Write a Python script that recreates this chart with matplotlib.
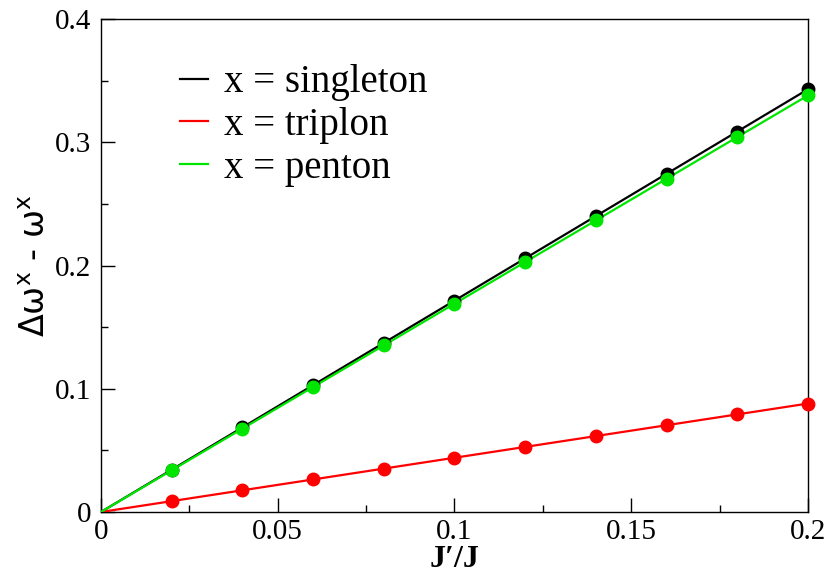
import numpy as np
import matplotlib
matplotlib.use("Agg")
import matplotlib.pyplot as plt
from matplotlib.ticker import MultipleLocator

plt.rcParams['font.family'] = ['Liberation Serif', 'DejaVu Serif']
plt.rcParams['mathtext.fontset'] = 'dejavusans'

# data
jprime = [0.02, 0.04, 0.06, 0.08, 0.10, 0.12, 0.14, 0.16, 0.18, 0.20]
singleton = [0.0343, 0.0686, 0.1029, 0.1372, 0.1715, 0.2058, 0.2401, 0.2744, 0.3087, 0.3430]
triplon = [0.0088, 0.0176, 0.0264, 0.0352, 0.0440, 0.0528, 0.0616, 0.0704, 0.0792, 0.0880]
penton = [0.0338, 0.0676, 0.1014, 0.1352, 0.1690, 0.2028, 0.2366, 0.2704, 0.3042, 0.3380]

labels = ['x = singleton', 'x = triplon', 'x = penton']
colors = ['black', '#ff0000', '#00e600']

fig = plt.figure(figsize=(8.27, 5.78), dpi=100)
ax = fig.add_axes([0.1221, 0.1142, 0.8549, 0.8529])

for ys, lab, col in zip([singleton, triplon, penton], labels, colors):
    # line from origin through the points
    ax.plot([0] + jprime, [0] + ys, color=col, lw=1.6, label=lab, zorder=3)
    ax.plot(jprime, ys, 'o', color=col, ms=9, clip_on=False, zorder=4)

ax.set_xlim(0, 0.2)
ax.set_ylim(0, 0.4)
ax.set_xticks([0, 0.05, 0.1, 0.15, 0.2])
ax.set_xticklabels(['0', '0.05', '0.1', '0.15', '0.2'])
ax.set_yticks([0, 0.1, 0.2, 0.3, 0.4])
ax.set_yticklabels(['0', '0.1', '0.2', '0.3', '0.4'])
ax.xaxis.set_minor_locator(MultipleLocator(0.025))
ax.yaxis.set_minor_locator(MultipleLocator(0.05))
ax.tick_params(which='major', direction='in', length=10, width=1, labelsize=21, pad=7)
ax.tick_params(axis='x', which='major', pad=5)
ax.tick_params(which='minor', direction='in', length=5, width=1)
for s in ax.spines.values():
    s.set_linewidth(1)

ax.set_xlabel("J\u2032/J", fontsize=23, fontweight='bold', labelpad=0)
ax.set_ylabel("\u0394\u03c9$^{\\mathrm{x}}$ - \u03c9$^{\\mathrm{x}}$", fontsize=24,
              family='DejaVu Sans', labelpad=2)

leg = ax.legend(loc='upper left', bbox_to_anchor=(0.09, 0.94), frameon=False,
                fontsize=28, handlelength=0.72, handletextpad=0.4, labelspacing=0.15,
                borderaxespad=0)

fig.savefig("out.png", dpi=100)
